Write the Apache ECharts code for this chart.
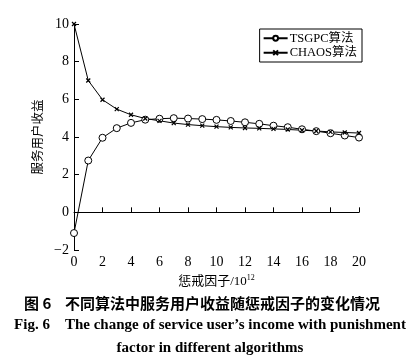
<!DOCTYPE html>
<html><head><meta charset="utf-8">
<script src="https://cdn.jsdelivr.net/npm/echarts@6/dist/echarts.min.js"></script>
<style>html,body{margin:0;padding:0;background:#fff;}#c{width:420px;height:364px;}</style>
</head><body><div id="c"></div>
<script>
const xValues = [0,1,2,3,4,5,6,7,8,9,10,11,12,13,14,15,16,17,18,19,20];
const tsgpc = [-1.1,2.75,3.96,4.47,4.75,4.92,4.97,5.0,4.98,4.95,4.91,4.85,4.78,4.7,4.6,4.52,4.41,4.31,4.2,4.08,3.97];
const chaos = [10,7.0,5.98,5.48,5.18,4.98,4.86,4.74,4.66,4.6,4.55,4.51,4.48,4.46,4.43,4.4,4.36,4.32,4.27,4.24,4.21];
const seriesNames = ['TSGPC算法','CHAOS算法'];
const xTicks = [0,2,4,6,8,10,12,14,16,18,20];
const yTicks = [-2,0,2,4,6,8,10];

const serif = '"Liberation Serif","DejaVu Serif",serif';
const cjk = '"Noto Sans CJK SC",sans-serif';
const crossPath = 'path://M0,0L10,10M10,0L0,10';
const chart = echarts.init(document.getElementById('c'), null, {renderer:'canvas'});
chart.setOption({
  backgroundColor:'#fff',
  animation:false,
  grid:{left:74,right:61,top:24,bottom:114},
  legend:{
    right:58, top:29, orient:'vertical', itemGap:2, itemWidth:24, itemHeight:6,
    padding:[3,5,3,3], borderColor:'#000', borderWidth:1, borderRadius:0,
    textStyle:{fontFamily:serif+','+cjk, fontSize:12.5, color:'#000', padding:[0,0,0,-3]},
    data:[{name:seriesNames[0]},{name:seriesNames[1]}]
  },
  xAxis:{
    type:'value', min:0, max:20, interval:2,
    name:'{a|惩戒因子/10}{s|12}', nameLocation:'middle', nameGap:16,
    nameTextStyle:{rich:{a:{fontFamily:serif+','+cjk,fontSize:13,color:'#000'},s:{fontFamily:serif,fontSize:8,color:'#000',verticalAlign:'top',padding:[0,0,7,0]}}},
    axisLine:{lineStyle:{color:'#000',width:1}},
    axisTick:{inside:true,length:5,lineStyle:{color:'#000'}},
    axisLabel:{fontFamily:serif,fontSize:14,color:'#000',margin:5},
    splitLine:{show:false}
  },
  yAxis:{
    type:'value', min:-2, max:10, interval:2,
    name:'服务用户收益', nameLocation:'middle', nameGap:24, nameRotate:90,
    nameTextStyle:{fontFamily:cjk,fontSize:12.5,color:'#000'},
    axisLine:{show:true,lineStyle:{color:'#000',width:1}},
    axisTick:{show:true,inside:true,length:5,lineStyle:{color:'#000'}},
    axisLabel:{fontFamily:serif,fontSize:14,color:'#000',margin:5,formatter:v=>String(v).replace('-','\u2212')},
    splitLine:{show:false}
  },
  series:[
    {name:seriesNames[0],type:'line',data:xValues.map((x,i)=>[x,tsgpc[i]]),
     symbol:'circle',symbolSize:7,showAllSymbol:true,
     lineStyle:{color:'#000',width:1},
     itemStyle:{color:'#fff',borderColor:'#000',borderWidth:1}},
    {name:seriesNames[1],type:'line',data:xValues.map((x,i)=>[x,chaos[i]]),
     symbol:crossPath,symbolSize:4,showAllSymbol:true,
     lineStyle:{color:'#000',width:1},
     itemStyle:{color:'none',borderColor:'#000',borderWidth:1.2}}
  ],
  graphic:[
    {type:'text',left:24,top:296,style:{text:'图 6    不同算法中服务用户收益随惩戒因子的变化情况',font:'bold 15px "Noto Sans CJK SC",sans-serif',fill:'#000'}},
    {type:'text',left:'center',top:318,style:{text:'Fig. 6    The change of service user\u2019s income with punishment',font:'bold 15px "Liberation Serif",serif',fill:'#000'}},
    {type:'text',left:'center',top:341,style:{text:'factor in different algorithms',font:'bold 15px "Liberation Serif",serif',fill:'#000'}}
  ]
});
</script></body></html>
